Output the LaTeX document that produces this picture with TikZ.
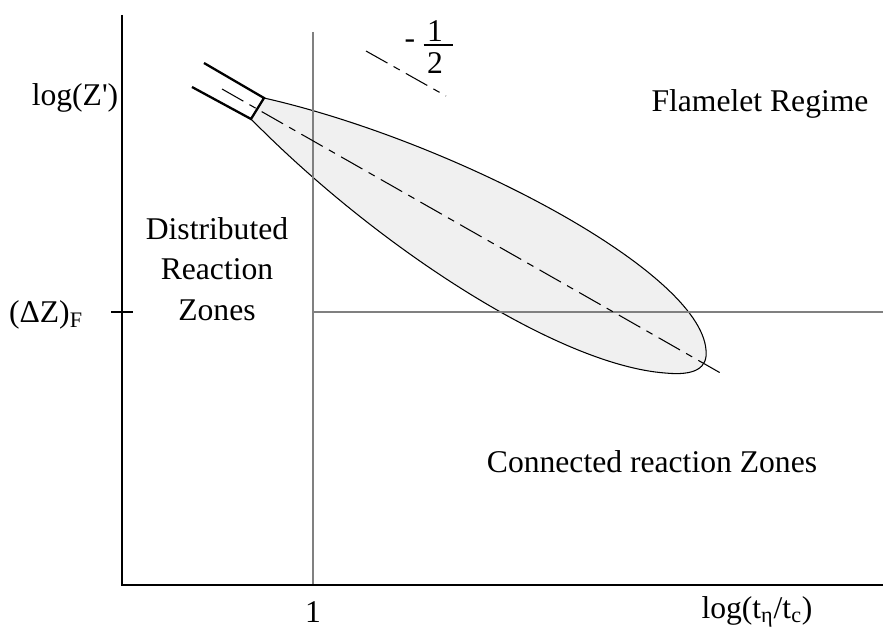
\documentclass[tikz,border=0pt]{standalone}
\usepackage{fontspec}
\setmainfont{Liberation Serif}
\usetikzlibrary{positioning}

\begin{document}
\begin{tikzpicture}[x=0.02cm,y=-0.02cm,
    axe/.style={line width=1.7pt},
    guide/.style={line width=1pt,black!50},
    centre/.style={line width=0.6pt,dash pattern=on 14pt off 4pt on 4pt off 4pt},
    tuyere/.style={line width=1.3pt},
    lbl/.style={font=\fontsize{18}{23}\selectfont,inner sep=0pt,align=center}]

\useasboundingbox (0,0) rectangle (883,635);

% axes
\coordinate (o) at (122,585);
\coordinate (ytop) at (122,15);
\coordinate (xend) at (883,585);

% nozzle
\coordinate (n1) at (204,63);
\coordinate (n2) at (264,98);
\coordinate (n3) at (251,119);
\coordinate (n4) at (192,87);

% flame zone
\coordinate (pointe) at (706,350);
\coordinate (bas) at (665,373);
\draw[line width=0.6pt,fill=black!6] (n2) .. controls (450,140) and (700,270) .. (pointe)
    .. controls (708,368) and (695,376) .. (bas)
    .. controls (560,365) and (380,250) .. (n3) -- cycle;

% regime borders
\coordinate (one) at (313,585);
\coordinate (onetop) at (313,32);
\coordinate (f) at (313,312);
\coordinate (fend) at (883,312);
\draw[guide] (onetop) -- (one);
\draw[guide] (f) -- (fend);

\draw[axe] (ytop) -- (o) -- (xend);
\coordinate (tl) at (111,312);
\coordinate (tr) at (133,312);
\draw[line width=0.7pt] (tl) -- (tr);

\draw[tuyere] (n1) -- (n2) -- (n3) -- (n4);

% centre line and slope
\coordinate (c1) at (222,89);
\coordinate (c2) at (724,375);
\draw[centre] (c1) -- (c2);
\coordinate (s1) at (366,51);
\coordinate (s2) at (446,96);
\draw[centre] (s1) -- (s2);
\node[lbl] (moins) at (410,44) {-};
\node[lbl] (num) at (435,31) {1};
\node[lbl] (den) at (435,63) {2};
\draw[line width=0.6pt] (num.south west |- 0,45) ++(-3,0) -- ++(29,0);

% labels
\node[lbl] (logz) at (75,98) {log(Z\textquotesingle)};
\node[lbl] (dzf) at (46,315) {(ΔZ)\textsubscript{F}};
\node[lbl] (un) at (313,612) {1};
\node[lbl] (logt) at (757,612) {log(t\textsubscript{η}/t\textsubscript{c})};
\node[lbl] (flam) at (760,104) {Flamelet Regime};
\node[lbl] (dist) at (217,269) {Distributed\\Reaction\\Zones};
\node[lbl] (conn) at (652,462) {Connected reaction Zones};

\end{tikzpicture}
\end{document}
